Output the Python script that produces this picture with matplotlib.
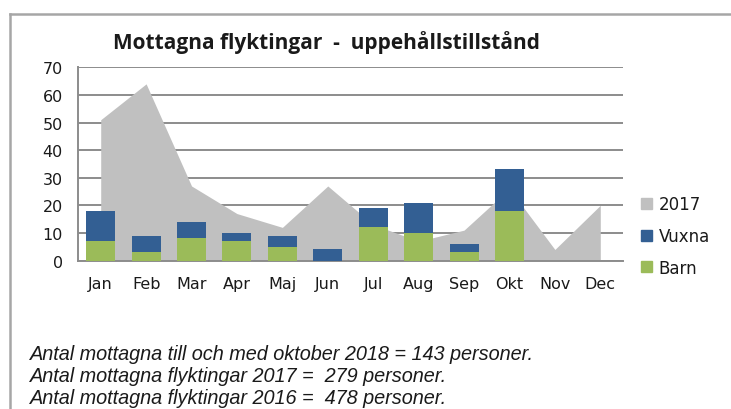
import matplotlib
matplotlib.use("Agg")
import matplotlib.pyplot as plt
import numpy as np
from matplotlib.lines import Line2D
from matplotlib.patches import Patch

months = ["Jan", "Feb", "Mar", "Apr", "Maj", "Jun", "Jul", "Aug", "Sep", "Okt", "Nov", "Dec"]
y2017 = [51, 64, 27, 17, 12, 27, 13, 7, 11, 26, 4, 20]
barn = [7, 3, 8, 7, 5, 0, 12, 10, 3, 18]
vuxna = [11, 6, 6, 3, 4, 4, 7, 11, 3, 15]
yticks = [0, 10, 20, 30, 40, 50, 60, 70]
title = "Mottagna flyktingar  -  uppehållstillstånd"
notes = [
    "Antal mottagna till och med oktober 2018 = 143 personer.",
    "Antal mottagna flyktingar 2017 =  279 personer.",
    "Antal mottagna flyktingar 2016 =  478 personer.",
]

c_grey = "#c0c0c0"
c_blue = "#335f93"
c_green = "#9bbb59"

W, H = 731, 410
fig = plt.figure(figsize=(W / 100, H / 100), dpi=100)
ax = fig.add_axes([78 / W, 1 - 261.5 / H, (623 - 78) / W, (261.5 - 68.3) / H])

x = np.arange(len(months))
ax.fill_between(x, 0, y2017, color=c_grey, lw=0, zorder=2)
xb = np.arange(len(barn))
ax.bar(xb, barn, width=0.64, color=c_green, zorder=3, lw=0)
ax.bar(xb, vuxna, bottom=barn, width=0.64, color=c_blue, zorder=3, lw=0)

ax.set_xlim(-0.5, len(months) - 0.5)
ax.set_ylim(0, 70)
ax.set_yticks(yticks)
ax.set_xticks(x)
ax.set_xticklabels(months)
ax.yaxis.grid(True, color="#8c8c8c", lw=1.4, zorder=0)
ax.set_axisbelow(True)
for s in ["top", "right"]:
    ax.spines[s].set_visible(False)
for s in ["left", "bottom"]:
    ax.spines[s].set_color("#8c8c8c")
    ax.spines[s].set_linewidth(1.4)
ax.tick_params(axis="both", length=0, labelsize=11.5, colors="#1a1a1a")
ax.tick_params(axis="x", pad=11)
ax.tick_params(axis="y", pad=11)

fig.text(326 / W, 1 - 43 / H, title, ha="center", va="center",
         fontsize=15, fontweight="bold", family="Open Sans", color="#1a1a1a")

handles = [Patch(color=c_grey), Patch(color=c_blue), Patch(color=c_green)]
leg = fig.legend(handles, ["2017", "Vuxna", "Barn"], loc="center left",
                 bbox_to_anchor=(626 / W, 1 - 237 / H), frameon=False,
                 fontsize=12, handlelength=0.65, handleheight=0.65,
                 handletextpad=0.4, labelspacing=0.82)
for t in leg.get_texts():
    t.set_color("#1a1a1a")

for i, line in enumerate(notes):
    fig.text(30 / W, 1 - (355 + 22 * i) / H, line, ha="left", va="center",
             fontsize=14.3, style="italic",
             family="Liberation Sans", color="#1a1a1a")

fig.add_artist(Line2D([10 / W, 1], [1 - 15 / H, 1 - 15 / H], color="#a6a6a6", lw=1.8,
                      transform=fig.transFigure))
fig.add_artist(Line2D([10 / W, 10 / W], [0, 1 - 15 / H], color="#a6a6a6", lw=1.8,
                      transform=fig.transFigure))

fig.savefig("out.png", dpi=100)
